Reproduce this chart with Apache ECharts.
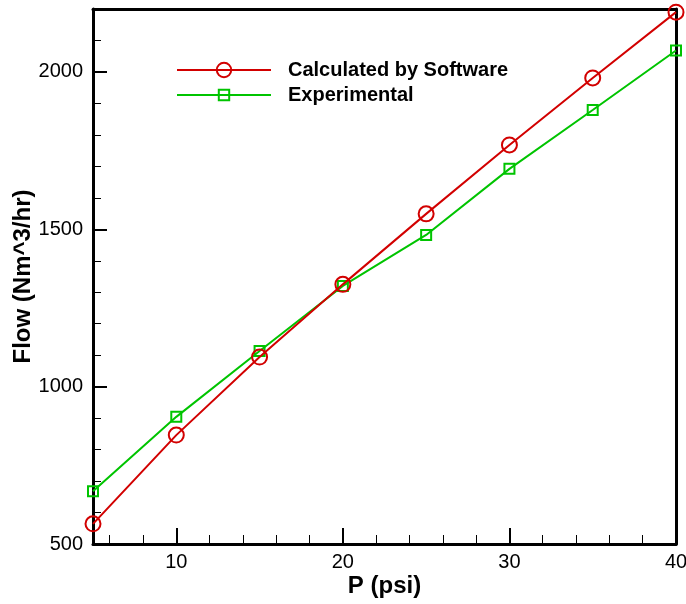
<!DOCTYPE html>
<html>
<head>
<meta charset="utf-8">
<script src="https://cdn.jsdelivr.net/npm/echarts@6/dist/echarts.min.js"></script>
<style>
  html, body { margin: 0; padding: 0; background: #fff; }
  #chart { width: 686px; height: 604px; }
</style>
</head>
<body>
<div id="chart"></div>
<script>
// Pressure (psi) vs. flow (Nm^3/hr)
const pressure = [5, 10, 15, 20, 25, 30, 35, 40];
const calculated = [564, 846, 1094, 1325, 1549, 1768, 1981, 2190];
const experimental = [668, 904, 1113, 1320, 1482, 1692, 1879, 2068];

const xMajorTicks = [10, 20, 30, 40];
const xMinorTicks = [6, 8, 12, 14, 16, 18, 22, 24, 26, 28, 32, 34, 36, 38];
const yMajorTicks = [500, 1000, 1500, 2000];
const yMinorTicks = [600, 700, 800, 900, 1100, 1200, 1300, 1400, 1600, 1700, 1800, 1900, 2100];

const seriesNames = ['Calculated by Software', 'Experimental'];
const RED = '#d20000';
const GREEN = '#00c400';
const FONT = 'Liberation Sans, Arial, Helvetica, sans-serif';

const toPairs = ys => pressure.map((x, i) => [x, ys[i]]);
const plainNumber = v => String(v);

const chart = echarts.init(document.getElementById('chart'), null, { renderer: 'canvas' });

const hiddenParts = {
  axisLine: { show: false },
  axisTick: { show: false },
  axisLabel: { show: false },
  splitLine: { show: false }
};

chart.setOption({
  backgroundColor: '#fff',
  animation: false,
  grid: { left: 93, right: 10, top: 9, bottom: 60, containLabel: false, outerBoundsMode: 'none' },
  legend: [
    {
      data: [seriesNames[0]],
      left: 176, top: 60, padding: 0,
      itemWidth: 94, itemHeight: 18,
      textStyle: { fontFamily: FONT, fontSize: 20, fontWeight: 'bold', color: '#000', padding: [0, 0, 0, 12] }
    },
    {
      data: [seriesNames[1]],
      left: 176, top: 85, padding: 0,
      itemWidth: 94, itemHeight: 13,
      textStyle: { fontFamily: FONT, fontSize: 20, fontWeight: 'bold', color: '#000', padding: [0, 0, 0, 12] }
    }
  ],
  xAxis: [
    {
      type: 'value', min: 5, max: 40, position: 'bottom',
      name: 'P (psi)', nameLocation: 'middle', nameGap: 30, nameMoveOverlap: false,
      nameTextStyle: { fontFamily: FONT, fontSize: 24, fontWeight: 'bold', color: '#000' },
      axisLine: { show: true, lineStyle: { color: '#000', width: 3 } },
      axisTick: { show: true, inside: true, length: 16, customValues: xMajorTicks, lineStyle: { color: '#000', width: 2 } },
      axisLabel: { show: true, customValues: xMajorTicks, formatter: plainNumber, margin: 8, fontFamily: FONT, fontSize: 20, color: '#000' },
      splitLine: { show: false }
    },
    {
      type: 'value', min: 5, max: 40, position: 'bottom',
      axisLine: { show: false },
      axisTick: { show: true, inside: true, length: 9, customValues: xMinorTicks, lineStyle: { color: '#000', width: 1 } },
      axisLabel: { show: false },
      splitLine: { show: false }
    },
    Object.assign({ type: 'value', min: 5, max: 40, position: 'top' }, hiddenParts, {
      axisLine: { show: true, lineStyle: { color: '#000', width: 3 } }
    })
  ],
  yAxis: [
    {
      type: 'value', min: 500, max: 2200, position: 'left',
      name: 'Flow (Nm^3/hr)', nameLocation: 'middle', nameGap: 58, nameMoveOverlap: false,
      nameTextStyle: { fontFamily: FONT, fontSize: 24, fontWeight: 'bold', color: '#000' },
      axisLine: { show: true, lineStyle: { color: '#000', width: 3 } },
      axisTick: { show: true, inside: true, length: 14, customValues: yMajorTicks, lineStyle: { color: '#000', width: 2 } },
      axisLabel: { show: true, customValues: yMajorTicks, formatter: plainNumber, margin: 10, fontFamily: FONT, fontSize: 20, color: '#000' },
      splitLine: { show: false }
    },
    {
      type: 'value', min: 500, max: 2200, position: 'left',
      axisLine: { show: false },
      axisTick: { show: true, inside: true, length: 8, customValues: yMinorTicks, lineStyle: { color: '#000', width: 1 } },
      axisLabel: { show: false },
      splitLine: { show: false }
    },
    Object.assign({ type: 'value', min: 500, max: 2200, position: 'right' }, hiddenParts, {
      axisLine: { show: true, lineStyle: { color: '#000', width: 3 } }
    })
  ],
  series: [
    {
      name: seriesNames[0], type: 'line', xAxisIndex: 0, yAxisIndex: 0,
      data: toPairs(calculated),
      color: RED,
      symbol: 'circle', symbolSize: 15,
      lineStyle: { color: RED, width: 2 },
      itemStyle: { color: 'rgba(0,0,0,0)', borderColor: RED, borderWidth: 2 },
      z: 3
    },
    {
      name: seriesNames[1], type: 'line', xAxisIndex: 0, yAxisIndex: 0,
      data: toPairs(experimental),
      color: GREEN,
      symbol: 'rect', symbolSize: 10,
      lineStyle: { color: GREEN, width: 2 },
      itemStyle: { color: 'rgba(0,0,0,0)', borderColor: GREEN, borderWidth: 2 },
      z: 2
    }
  ]
});
</script>
</body>
</html>
